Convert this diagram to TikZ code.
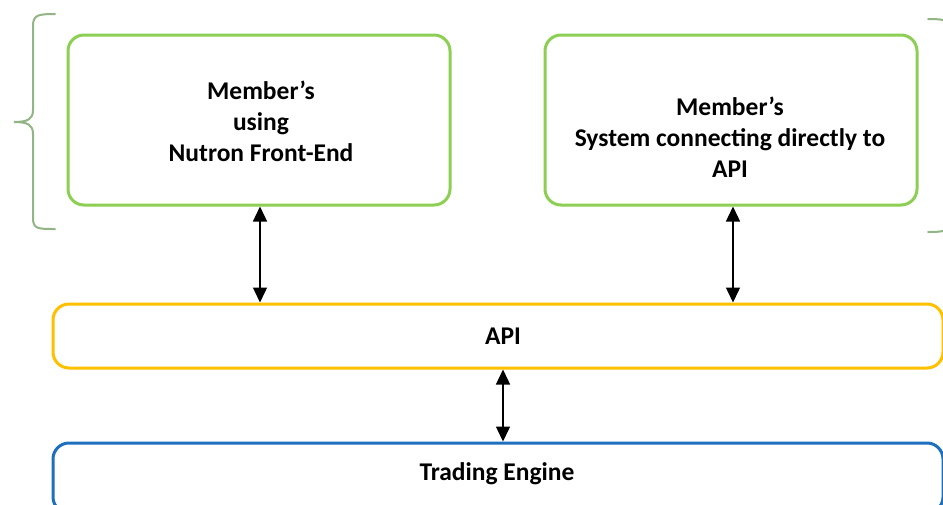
\documentclass[tikz,border=0pt]{standalone}
\usepackage{fontspec}
\setmainfont{Carlito}
\usetikzlibrary{arrows.meta}
\definecolor{boxgreen}{HTML}{8DCF52}
\definecolor{bracegreen}{HTML}{93B585}
\definecolor{apiorange}{HTML}{FFC000}
\definecolor{teblue}{HTML}{1F6FBF}
\tikzset{
  mbox/.style={draw=boxgreen, line width=3pt, rounded corners=16pt, inner sep=0pt},
  abox/.style={line width=3pt, rounded corners=16pt, inner sep=0pt},
  lbl/.style={font=\bfseries\fontsize{25.5}{31}\selectfont, align=center, text=black},
  link/.style={line width=1.4pt, {Triangle[length=15pt,width=14pt]}-{Triangle[length=15pt,width=14pt]}},
  brace/.style={draw=bracegreen, line width=2pt, line cap=round}
}
\begin{document}
\begin{tikzpicture}[x=1pt,y=-1pt]
\useasboundingbox[fill=white] (0,0) rectangle (943,504);
% boxes
\node[mbox, minimum width=382pt, minimum height=170pt] (m1) at (259,120) {};
\node[mbox, minimum width=372pt, minimum height=170pt] (m2) at (731,120) {};
\node[abox, draw=apiorange, minimum width=890pt, minimum height=64pt] (api) at (498,336) {};
\node[abox, draw=teblue, minimum width=890pt, minimum height=70pt] (te) at (498,478) {};
% labels
\node[lbl] (t1) at (261,121) {Member’s\\using\\Nutron Front-End};
\node[lbl] (t2) at (730,137) {Member’s\\System connecting directly to\\API};
\node[lbl] (t3) at (503,336) {API};
\node[lbl] (t4) at (497,474) {Trading Engine};
% connectors
\coordinate (a1) at (260,0);
\coordinate (a2) at (733,0);
\coordinate (a3) at (503,0);
\draw[link] (a1 |- m1.south) -- (a1 |- api.north);
\draw[link] (a2 |- m2.south) -- (a2 |- api.north);
\draw[link] (a3 |- api.south) -- (a3 |- te.north);
% left brace
\draw[brace] (55,14) .. controls (38,14) and (33,15) .. (33,26) -- (33,110)
  .. controls (33,119) and (28,122) .. (14,122)
  .. controls (28,122) and (33,125) .. (33,134) -- (33,218)
  .. controls (33,229) and (38,229) .. (55,229);
% right brace (mostly outside the picture)
\draw[brace] (928,19) .. controls (945,19) and (950,20) .. (950,31) -- (950,220)
  .. controls (950,231) and (945,232) .. (928,232);
\end{tikzpicture}
\end{document}
